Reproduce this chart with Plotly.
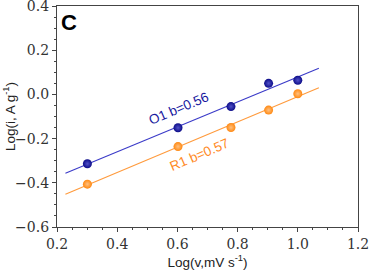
import numpy as np
import plotly.graph_objects as go

# Data
log_v = [0.301, 0.602, 0.778, 0.903, 1.0]
o1_log_i = [-0.314, -0.151, -0.055, 0.050, 0.064]
r1_log_i = [-0.406, -0.236, -0.150, -0.071, 0.003]
fit_range = [0.228, 1.07]
x_ticks = [0.2, 0.4, 0.6, 0.8, 1.0, 1.2]
y_ticks = [-0.6, -0.4, -0.2, 0.0, 0.2, 0.4]
o1_label = "O1 b=0.56"
r1_label = "R1 b=0.57"

blue_pt = "#0c0c88"
blue_line = "#3a3ac8"
orange_pt = "#ff8810"
orange_line = "#ff9a3c"

fig = go.Figure()

xf = np.array(fit_range)
for y, lc, pc, hl in [(o1_log_i, blue_line, blue_pt, "#5050c8"),
                      (r1_log_i, orange_line, orange_pt, "#ffc080")]:
    k, b = np.polyfit(log_v, y, 1)
    fig.add_trace(go.Scatter(x=xf, y=k * xf + b, mode="lines",
                             line=dict(color=lc, width=1.1), showlegend=False,
                             hoverinfo="skip"))
    fig.add_trace(go.Scatter(x=log_v, y=y, mode="markers",
                             marker=dict(size=9, color=pc,
                                         gradient=dict(type="radial", color=hl),
                                         line=dict(width=0)),
                             showlegend=False))

serif = "DejaVu Serif"
sans = "Liberation Sans"

fig.update_layout(
    width=370, height=270,
    margin=dict(l=57, r=12, t=6, b=43, autoexpand=False),
    paper_bgcolor="white", plot_bgcolor="white",
    font=dict(family=serif, size=14, color="#333"),
    annotations=[
        dict(x=0.605, y=-0.064, text=o1_label, showarrow=False, textangle=-23,
             font=dict(family=sans, size=13.5, color="#1a1aa0")),
        dict(x=0.675, y=-0.272, text=r1_label, showarrow=False, textangle=-23,
             font=dict(family=sans, size=13.5, color="#ff8a1f")),
        dict(x=0.005, y=0.99, xref="paper", yref="paper", text="<b>C</b>",
             showarrow=False, xanchor="left", yanchor="top",
             font=dict(family=sans, size=22, color="black")),
    ],
)

common = dict(showline=True, linecolor="#444", linewidth=1.3, mirror=True,
              ticks="outside", ticklen=4, tickwidth=1, tickcolor="#444",
              showgrid=False, zeroline=False, ticklabeloverflow="allow",
              tickfont=dict(family=serif, size=14, color="#333"),
              minor=dict(ticks="outside", ticklen=2, tickcolor="#444"))

fig.update_xaxes(range=[0.2, 1.2], tickmode="array", tickvals=x_ticks,
                 ticktext=[f"{v:.1f}" for v in x_ticks],
                 title=dict(text="Log(v,mV s<sup>-1</sup>)", standoff=2,
                            font=dict(family=sans, size=13.5, color="#222")),
                 **common)
fig.update_yaxes(range=[-0.6, 0.4], tickmode="array", tickvals=y_ticks,
                 ticktext=[f"{v:.1f}".replace("-", "\u2212") for v in y_ticks],
                 title=dict(text="Log(i, A g<sup>-1</sup>)", standoff=2,
                            font=dict(family=sans, size=13.5, color="#222")),
                 **common)

fig.write_html("out.html", config={"displayModeBar": False},
               post_script="document.body.style.margin='0';")
